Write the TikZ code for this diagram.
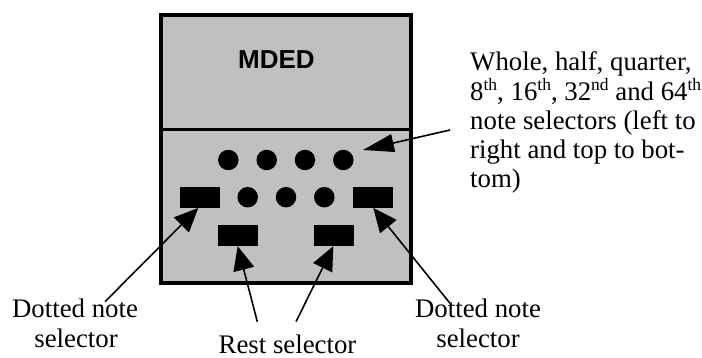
\documentclass[tikz,border=0pt]{standalone}
\usepackage{fontspec}
\setmainfont{Liberation Serif}
\newfontfamily\arialfont{Liberation Sans}
\usetikzlibrary{arrows.meta}
\newcommand\supx[1]{\raisebox{9.5pt}{\fontsize{17.5}{17.5}\selectfont #1}}
\definecolor{panelgray}{RGB}{192,192,192}
\begin{document}
\begin{tikzpicture}[x=1pt,y=-1pt,
  lbl/.style={font=\fontsize{26.8}{29}\selectfont, inner sep=0pt, anchor=base west},
  lblc/.style={font=\fontsize{26.8}{29}\selectfont, inner sep=0pt, anchor=base},
  dotbtn/.style={circle, fill=black, minimum size=20.5pt, inner sep=0pt},
  rectbtn/.style={rectangle, fill=black, minimum width=40pt, minimum height=21pt, inner sep=0pt},
  ptr/.style={line width=1.6pt, -{Triangle[length=24pt,width=21pt]}},
  ptrlong/.style={line width=1.6pt, -{Triangle[length=31pt,width=18pt]}}]
\useasboundingbox (0,0) rectangle (702,358);
% panel
\draw[line width=4pt, fill=panelgray] (161.3,15) rectangle (410.5,283.3);
\draw[line width=3pt] (161.3,129.5) -- (410.5,129.5);
\node[font=\arialfont\bfseries\fontsize{26}{29}\selectfont, inner sep=0pt] (mded) at (276.5,59.8) {MDED};
% dots
\node[dotbtn] (d1) at (228.3,160) {};
\node[dotbtn] (d2) at (266.7,160) {};
\node[dotbtn] (d3) at (305,160) {};
\node[dotbtn] (d4) at (343.3,160) {};
\node[dotbtn] (d5) at (247.7,197.2) {};
\node[dotbtn] (d6) at (286,197.2) {};
\node[dotbtn] (d7) at (324.3,197.2) {};
% rectangles
\node[rectbtn] (dl) at (200,197.2) {};
\node[rectbtn] (dr) at (372.7,197.2) {};
\node[rectbtn] (rl) at (238.3,235.5) {};
\node[rectbtn] (rr) at (334,235.5) {};
% right label
\node[lbl] (t1) at (470,71) {Whole, half, quarter,};
\node[lbl] (t2) at (470,100.2) {8\supx{th}, 16\supx{th}, 32\supx{nd} and 64\supx{th}};
\node[lbl] (t3) at (470,129.4) {note selectors (left to};
\node[lbl] (t4) at (470,158.6) {right and top to bot-};
\node[lbl] (t5) at (470,187.8) {tom)};
% bottom labels
\node[lblc] (dla) at (75,318) {Dotted note};
\node[lblc] (dlb) at (76,348) {selector};
\node[lblc] (dra) at (478,318) {Dotted note};
\node[lblc] (drb) at (478,348) {selector};
\node[lblc] (rest) at (287.5,353) {Rest selector};
% connector ends
\coordinate (ttail) at (450,130);
\coordinate (ttip) at (363,150);
\coordinate (dltail) at (105,301.7);
\coordinate (drtail) at (450,303.3);
\coordinate (rltail) at (257.3,321.7);
\coordinate (rrtail) at (296,321.7);
% arrows
\draw[ptrlong] (ttail) -- (ttip);
\draw[ptr] (dltail) -- ([xshift=-1.7pt]dl.south);
\draw[ptr] (drtail) -- ([xshift=0.6pt]dr.south);
\draw[ptr] (rltail) -- ([xshift=-0.6pt]rl.south);
\draw[ptr] (rrtail) -- ([xshift=-0.7pt]rr.south);
\end{tikzpicture}
\end{document}
